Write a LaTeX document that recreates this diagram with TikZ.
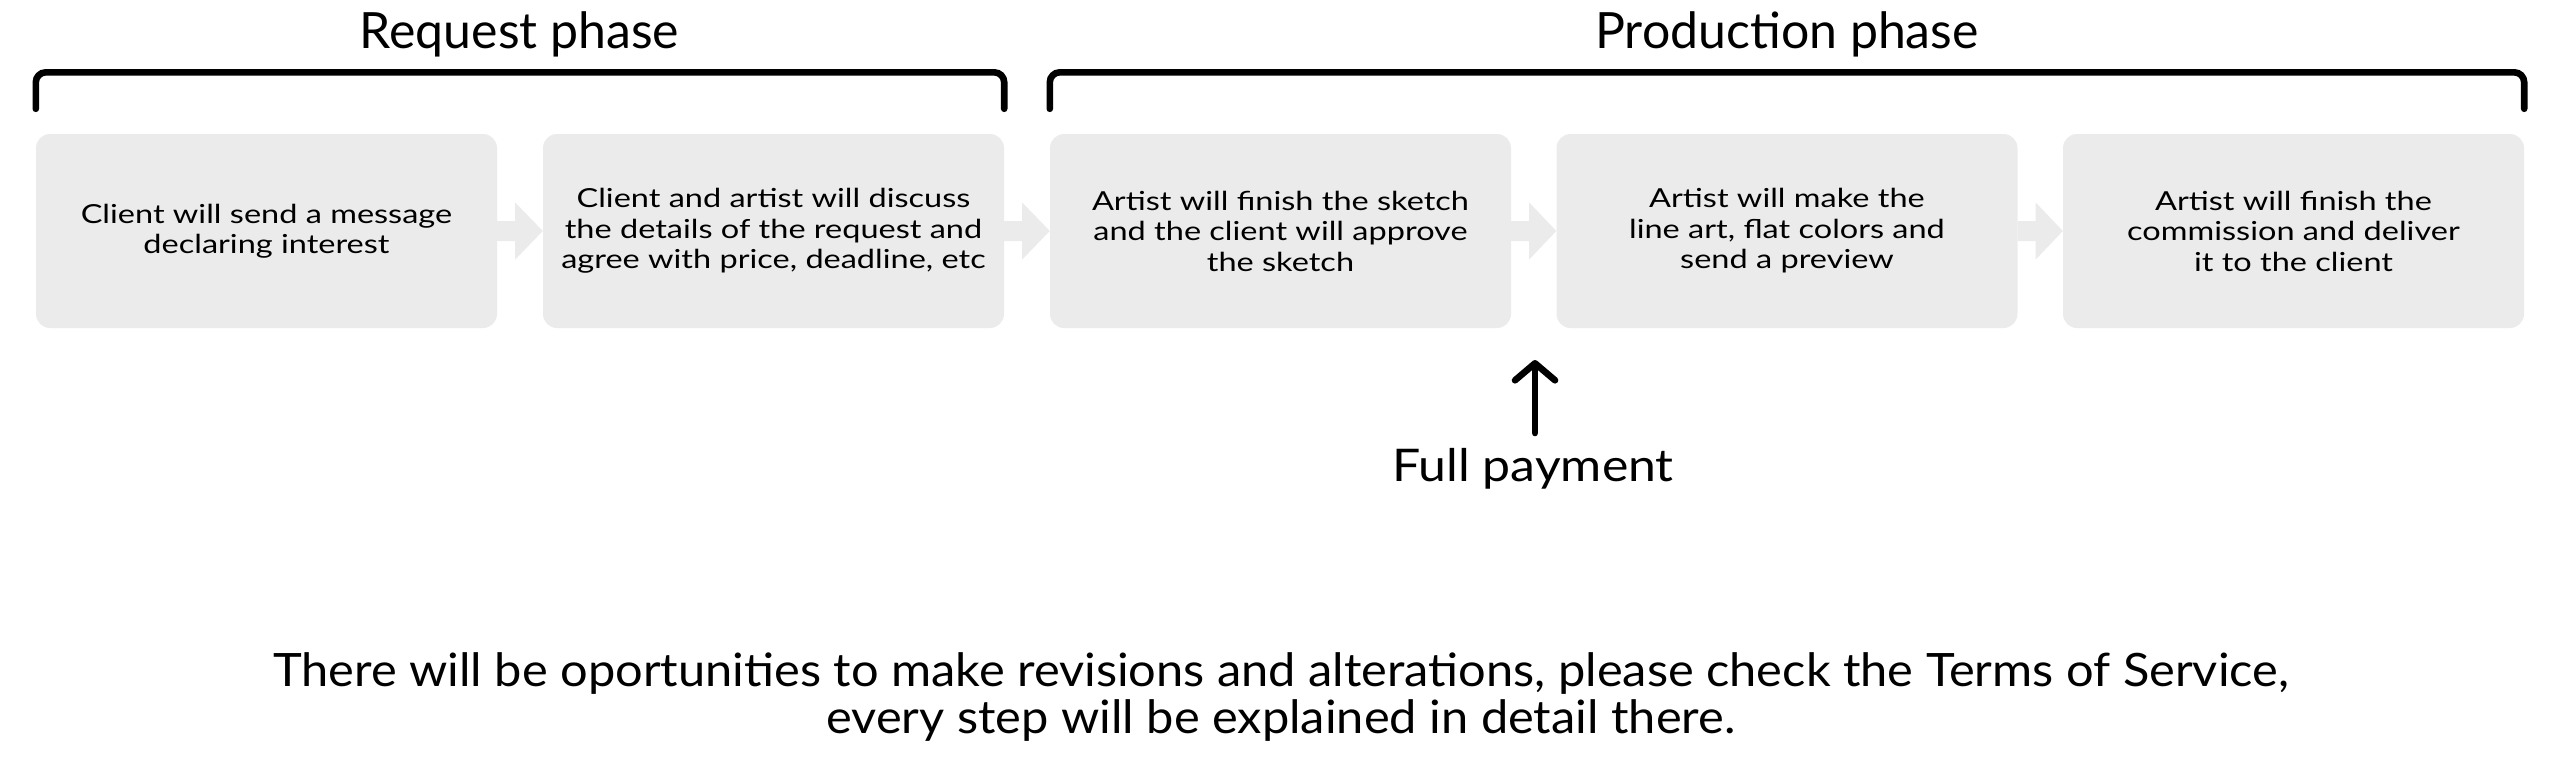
\documentclass[tikz,border=0pt]{standalone}
\usepackage{fontspec}
\setmainfont{Lato}
\newfontfamily\boxfont[FakeStretch=1.24]{Lato}
\newfontfamily\payfont[FakeStretch=1.11]{Lato}
\newfontfamily\notefont[FakeStretch=1.06]{Lato}
\usetikzlibrary{calc,arrows.meta}
\definecolor{boxgray}{RGB}{235,235,235}
\definecolor{ink}{RGB}{0,0,0}
\newcommand\flowarrow[2]{%
  \fill[boxgray] ($(#1.east)+(0,-10)$) -- ($(#1.east)+(18,-10)$) -- ($(#1.east)+(18,-28.5)$)
    -- (#2.west) -- ($(#1.east)+(18,28.5)$) -- ($(#1.east)+(18,10)$) -- ($(#1.east)+(0,10)$) -- cycle;}
\tikzset{
  stepbox/.style={fill=boxgray, rounded corners=14pt, minimum width=461pt, minimum height=194pt,
    inner sep=0pt, align=center, text=ink, font=\boxfont\fontsize{26.2}{30.5}\selectfont},
  phasetitle/.style={anchor=base, text=ink, inner sep=0pt, font=\fontsize{50}{60}\selectfont},
  bracketline/.style={draw=ink, line width=6.6pt, rounded corners=10pt, line cap=round},
  payarrow/.style={draw=ink, line width=6.6pt, line cap=round,
    -{Straight Barb[length=17pt,width=40pt,round]}},
}
\begin{document}
\begin{tikzpicture}[x=1pt,y=-1pt]
\useasboundingbox (0,0) rectangle (2560,756);
\node[stepbox] (b1) at (266.5,231) {Client will send a message\\declaring interest};
\node[stepbox] (b2) at (773.5,231) {Client and artist will discuss\\the details of the request and\\agree with price, deadline, etc};
\node[stepbox] (b3) at (1280.5,231) {Artist will finish the sketch\\and the client will approve\\the sketch};
\node[stepbox] (b4) at (1787,231) {Artist will make the\\line art, flat colors and\\send a preview};
\node[stepbox] (b5) at (2293.5,231) {Artist will finish the\\commission and deliver\\it to the client};
\flowarrow{b1}{b2}
\flowarrow{b2}{b3}
\flowarrow{b3}{b4}
\flowarrow{b4}{b5}
\draw[bracketline] ([yshift=25pt]b1.north west) -- ([yshift=61.5pt]b1.north west)
  -- ([yshift=61.5pt]b2.north east) -- ([yshift=25pt]b2.north east);
\draw[bracketline] ([yshift=25pt]b3.north west) -- ([yshift=61.5pt]b3.north west)
  -- ([yshift=61.5pt]b5.north east) -- ([yshift=25pt]b5.north east);
\node[phasetitle] (t1) at (519.5,48) {Request phase};
\node[phasetitle] (t2) at (1787,48) {Production phase};
\node[anchor=base, inner sep=0pt, text=ink, font=\payfont\fontsize{45}{54}\selectfont] (pay) at (1533,481.7) {Full payment};
\coordinate (paytail) at (1535,433);
\coordinate (paytip) at (1535,360);
\draw[payarrow] (paytail) -- (paytip);
\node[anchor=base, inner sep=0pt, align=center, text=ink, font=\notefont\fontsize{46}{47}\selectfont] (note) at (1281,733)
  {There will be oportunities to make revisions and alterations, please check the Terms of Service,\\every step will be explained in detail there.};
\end{tikzpicture}
\end{document}
